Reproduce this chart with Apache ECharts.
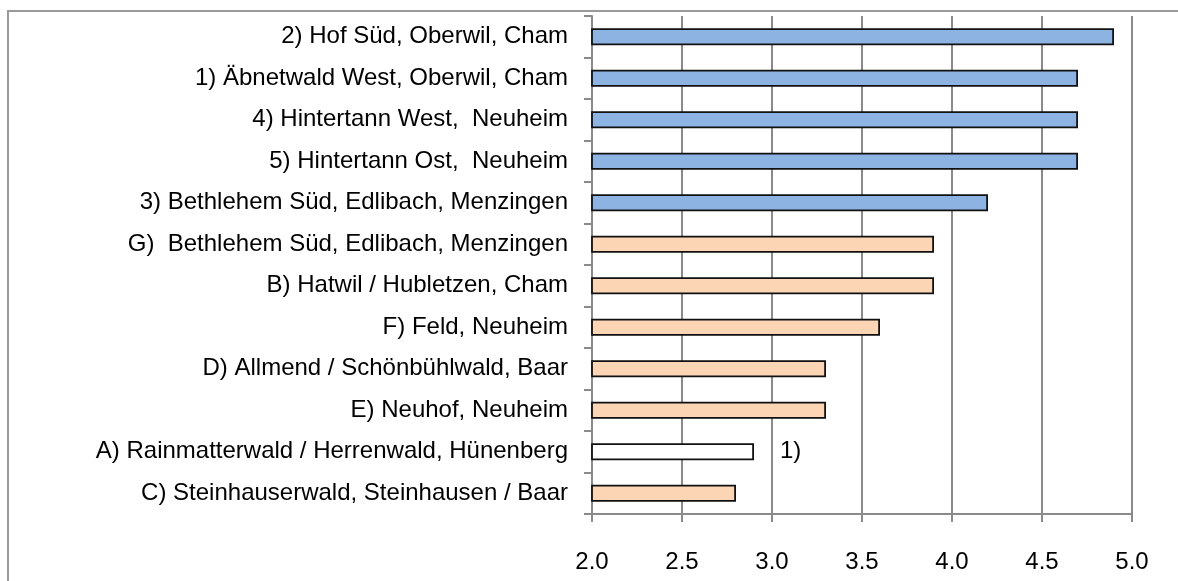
<!DOCTYPE html>
<html>
<head>
<meta charset="utf-8">
<script src="https://cdn.jsdelivr.net/npm/echarts@6/dist/echarts.min.js"></script>
<style>
  html, body { margin: 0; padding: 0; background: #fff; }
  #main { width: 1178px; height: 581px; }
</style>
</head>
<body>
<div id="main"></div>
<script>
// sites, top to bottom
const sites = [
  '2) Hof Süd, Oberwil, Cham',
  '1) Äbnetwald West, Oberwil, Cham',
  '4) Hintertann West,  Neuheim',
  '5) Hintertann Ost,  Neuheim',
  '3) Bethlehem Süd, Edlibach, Menzingen',
  'G)  Bethlehem Süd, Edlibach, Menzingen',
  'B) Hatwil / Hubletzen, Cham',
  'F) Feld, Neuheim',
  'D) Allmend / Schönbühlwald, Baar',
  'E) Neuhof, Neuheim',
  'A) Rainmatterwald / Herrenwald, Hünenberg',
  'C) Steinhauserwald, Steinhausen / Baar'
];
const scores = [4.9, 4.7, 4.7, 4.7, 4.2, 3.9, 3.9, 3.6, 3.3, 3.3, 2.9, 2.8];
// which group each site belongs to
const groups = ['new', 'new', 'new', 'new', 'new', 'old', 'old', 'old', 'old', 'old', 'note', 'old'];
const noteText = '1)';
const xTicks = [2.0, 2.5, 3.0, 3.5, 4.0, 4.5, 5.0];

const fillFor = {
  new: '#8db3e2',
  old: '#fcd5b5',
  note: '#ffffff'
};

const chart = echarts.init(document.getElementById('main'));

const font = 'Liberation Sans, Arial, sans-serif';

const barData = scores.map((v, i) => {
  const item = {
    value: v,
    itemStyle: { color: fillFor[groups[i]] }
  };
  if (groups[i] === 'note') {
    item.label = {
      show: true,
      position: 'right',
      distance: 26,
      formatter: noteText,
      fontSize: 24,
      fontFamily: font,
      color: '#000'
    };
  }
  return item;
});

const option = {
  animation: false,
  backgroundColor: '#fff',
  graphic: [{
    type: 'rect',
    shape: { x: 8, y: 11, width: 1300, height: 700 },
    style: { fill: 'none', stroke: '#9a9a9a', lineWidth: 2 },
    silent: true
  }],
  grid: { left: 592, right: 46, top: 16, bottom: 67 },
  xAxis: {
    type: 'value',
    min: xTicks[0],
    max: xTicks[xTicks.length - 1],
    interval: 0.5,
    axisLine: { show: true, lineStyle: { color: '#8a8a8a', width: 2 } },
    axisTick: { show: true, length: 8, lineStyle: { color: '#8a8a8a', width: 2 } },
    splitLine: { show: true, lineStyle: { color: '#8a8a8a', width: 2 } },
    axisLabel: {
      margin: 36,
      fontSize: 24,
      fontFamily: font,
      color: '#000',
      formatter: (v) => v.toFixed(1)
    }
  },
  yAxis: {
    type: 'category',
    inverse: true,
    data: sites,
    axisLine: { show: true, lineStyle: { color: '#8a8a8a', width: 2 } },
    axisTick: { show: true, length: 8, lineStyle: { color: '#8a8a8a', width: 2 } },
    axisLabel: {
      margin: 24,
      fontSize: 24,
      fontFamily: font,
      color: '#000'
    }
  },
  series: [{
    type: 'bar',
    barWidth: 17,
    data: barData,
    itemStyle: { borderColor: '#111', borderWidth: 1.8 },
    clip: true
  }]
};

chart.setOption(option);
</script>
</body>
</html>
